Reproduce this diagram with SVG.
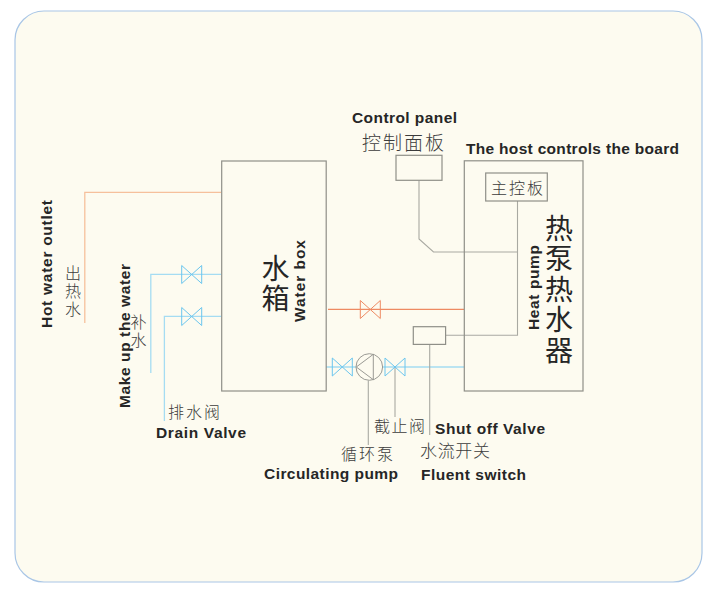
<svg xmlns="http://www.w3.org/2000/svg" width="716" height="592" viewBox="0 0 716 592">
<style>
.box{fill:none;stroke:#8f8f88;stroke-width:1.2}
.wire{fill:none;stroke:#a9a9a2;stroke-width:1.1}
.hot{fill:none;stroke:#f6c09c;stroke-width:1.3}
.red{fill:none;stroke:#ee8a62;stroke-width:1.1}
.cold{fill:none;stroke:#a5dcf2;stroke-width:1.3}
.vb{fill:none;stroke:#6cc6ee;stroke-width:1}
.vr{fill:none;stroke:#ee8a62;stroke-width:1}
.en{font-family:"Liberation Sans",Arial,sans-serif;font-weight:bold;font-size:15.5px;fill:#262626}
.cn{font-family:"Noto Sans CJK SC",sans-serif;font-size:16px;fill:#3c3c3c;font-weight:300}
.big{font-family:"Noto Sans CJK SC",sans-serif;font-size:28px;fill:#262626;writing-mode:vertical-rl}
.v{writing-mode:vertical-rl;letter-spacing:2px}
</style>
<defs>
<path id="valve" d="M-10-9L10 9V-9L-10 9Z"/>
</defs>
<rect x="15" y="11" width="687" height="571" rx="29" fill="#fdfbf0" stroke="#a9c6e6" stroke-width="1.2"/>
<g id="connectors">
<path class="hot" d="M221 192.400H84.800V323"/>
<path class="cold" d="M221 274.400H150.800V373"/>
<path class="cold" d="M221 316.400H164.400V421"/>
<path class="red" d="M328 309.400H464"/>
<path class="cold" d="M326 367H464"/>
<path class="wire" d="M419 180.500V239L433.500 252H517.500"/>
<path class="wire" d="M517.500 201V335.300H445.800"/>
<path class="wire" d="M429.700 344.500V435"/>
<path class="wire" d="M368.300 380.500V445"/>
<path class="wire" d="M395 367V417"/>
</g>
<g id="water-box">
<rect class="box" x="221.700" y="161" width="104.500" height="230"/>
<text class="big" x="275.500" y="254" style="letter-spacing:2px">水箱</text>
<text class="en" transform="translate(304.500 322) rotate(-90)" textLength="82">Water box</text>
</g>
<g id="heat-pump">
<rect class="box" x="464.300" y="160.800" width="118.700" height="230.200"/>
<text class="big" x="559" y="214" style="letter-spacing:2.500px">热泵热水器</text>
<text class="en" transform="translate(538.500 330) rotate(-90)" textLength="85">Heat pump</text>
<text class="en" x="466" y="153.500" textLength="213">The host controls the board</text>
</g>
<g id="main-board">
<rect class="box" x="485.700" y="173" width="61.600" height="28"/>
<text class="cn" x="491" y="193.500" textLength="52">主控板</text>
</g>
<g id="control-panel">
<rect class="box" x="396" y="155.300" width="46" height="25"/>
<text class="en" x="352" y="123" textLength="105">Control panel</text>
<text class="cn" x="362" y="150" style="font-size:19px" textLength="82">控制面板</text>
</g>
<g id="fluent-switch">
<rect class="box" x="413.300" y="326.700" width="32.300" height="17.700"/>
<text class="cn" x="420" y="457" style="font-size:17px" textLength="70">水流开关</text>
<text class="en" x="421" y="480" textLength="105">Fluent switch</text>
</g>
<g id="hot-outlet">
<text class="en" transform="translate(51.500 328) rotate(-90)" textLength="128">Hot water outlet</text>
<text class="cn v" x="73" y="265">出热水</text>
</g>
<g id="make-up">
<text class="en" transform="translate(129.500 408) rotate(-90)" textLength="144">Make up the water</text>
<text class="cn v" x="138.500" y="314">补水</text>
<use href="#valve" class="vb" x="191.700" y="274.500"/>
</g>
<g id="drain">
<text class="cn" x="168" y="418" textLength="52">排水阀</text>
<text class="en" x="156" y="438" textLength="90">Drain Valve</text>
<use href="#valve" class="vb" x="191.700" y="316.500"/>
</g>
<g id="link-valve">
<use href="#valve" class="vr" x="370.300" y="309.500"/>
</g>
<g id="pump">
<use href="#valve" class="vb" x="342.300" y="367"/>
<circle cx="369.300" cy="367" r="13.300" fill="#fdfbf0" stroke="#9a9a94" stroke-width="1"/>
<path d="M356.300 367L373.300 354.300V379.700Z" fill="none" stroke="#9a9a94" stroke-width="1"/>
<text class="cn" x="341" y="460" textLength="52">循环泵</text>
<text class="en" x="264" y="479" textLength="134">Circulating pump</text>
</g>
<g id="shut-off">
<use href="#valve" class="vb" x="395" y="367"/>
<text class="cn" x="374" y="432" textLength="51">截止阀</text>
<text class="en" x="435" y="434" textLength="110">Shut off Valve</text>
</g>
</svg>
